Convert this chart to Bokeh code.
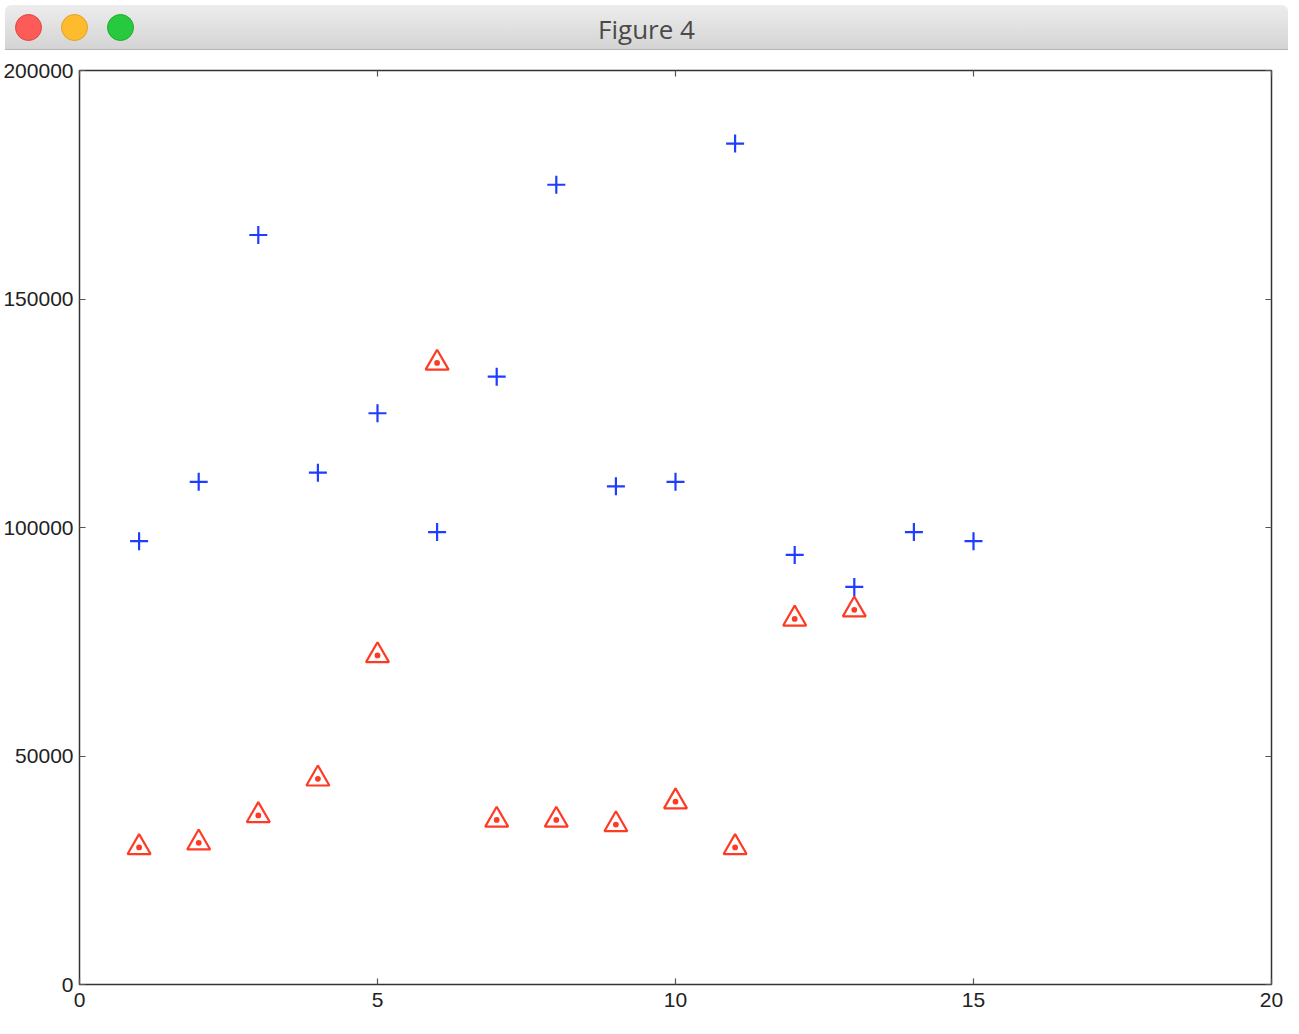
from bokeh.plotting import figure
from bokeh.models import (Range1d, LinearAxis, FixedTicker, NumeralTickFormatter,
                          CustomJSTickFormatter, Div, ColumnDataSource)
from bokeh.layouts import column
from bokeh.embed import file_html
from bokeh.resources import INLINE

# ---- data ----
blue_x = [1, 2, 3, 4, 5, 6, 7, 8, 9, 10, 11, 12, 13, 14, 15]
blue_y = [97000, 110000, 164000, 112000, 125000, 99000, 133000, 175000,
          109000, 110000, 184000, 94000, 87000, 99000, 97000]
red_x = [1, 2, 3, 4, 5, 6, 7, 8, 9, 10, 11, 12, 13]
red_y = [30000, 31000, 37000, 45000, 72000, 136000, 36000, 36000,
         35000, 40000, 30000, 80000, 82000]
x_ticks = [0, 5, 10, 15, 20]
y_ticks = [0, 50000, 100000, 150000, 200000]
window_title = "Figure 4"

FONT = "Liberation Sans"

# ---- window title bar ----
def light(left, fill, edge):
    return (f'<span style="position:absolute;left:{left}px;top:9px;width:27px;height:27px;'
            f'border-radius:50%;background:{fill};border:1px solid {edge};"></span>')

bar_html = (
    '<div style="position:relative;width:1283px;height:45px;'
    'background:linear-gradient(#ededed,#d4d4d4);border-bottom:1px solid #b4b4b4;'
    'border-top-left-radius:6px;border-top-right-radius:6px;">'
    + light(10, "#fc5b57", "#e0443e")
    + light(56, "#fdbb2d", "#dea123")
    + light(102, "#27c93f", "#1aab29")
    + '<span style="position:absolute;left:0;right:0;top:6px;text-align:center;'
      'font-family:\'Open Sans\';font-size:26px;color:#4a4a4a;">'
    + window_title + '</span></div>'
)
bar = Div(text=bar_html, width=1283, height=46)

# ---- plot ----
p = figure(width=1283, height=968, output_backend="svg", toolbar_location=None,
           x_range=Range1d(0, 20), y_range=Range1d(0, 200000),
           min_border_left=72, min_border_right=12, min_border_top=14, min_border_bottom=40,
           background_fill_color="white", border_fill_color="white")
p.grid.visible = False
p.outline_line_color = "#333333"
p.outline_line_width = 1.5

def style_axis(ax, ticks):
    ax.ticker = FixedTicker(ticks=ticks)
    ax.axis_line_color = None
    ax.major_tick_in = 6
    ax.major_tick_out = 0
    ax.minor_tick_line_color = None
    ax.major_tick_line_color = "#555555"
    ax.major_tick_line_width = 1.2
    ax.major_label_text_font = FONT
    ax.major_label_text_font_size = "21px"
    ax.major_label_text_color = "#222222"

style_axis(p.xaxis[0], x_ticks)
style_axis(p.yaxis[0], y_ticks)
p.xaxis[0].major_label_standoff = 8
p.yaxis[0].major_label_standoff = 6
p.yaxis[0].formatter = NumeralTickFormatter(format="0")
p.xaxis[0].formatter = NumeralTickFormatter(format="0")

blank = CustomJSTickFormatter(code="return ''")
top = LinearAxis(formatter=blank)
style_axis(top, x_ticks)
top.major_label_standoff = 0
right = LinearAxis(formatter=blank)
style_axis(right, y_ticks)
right.major_label_standoff = 0
p.add_layout(top, "above")
p.add_layout(right, "right")

blue_src = ColumnDataSource(dict(x=blue_x, y=blue_y))
red_src = ColumnDataSource(dict(x=red_x, y=red_y))

p.scatter("x", "y", source=blue_src, marker="cross", size=18,
          line_color="#1f3dff", line_width=2.2)
p.scatter("x", "y", source=red_src, marker="triangle_dot", size=23,
          line_color="#ff3a24", fill_color=None, line_width=2.2)

layout = column(bar, p, spacing=0)
open("out.html", "w").write(file_html(layout, INLINE))
